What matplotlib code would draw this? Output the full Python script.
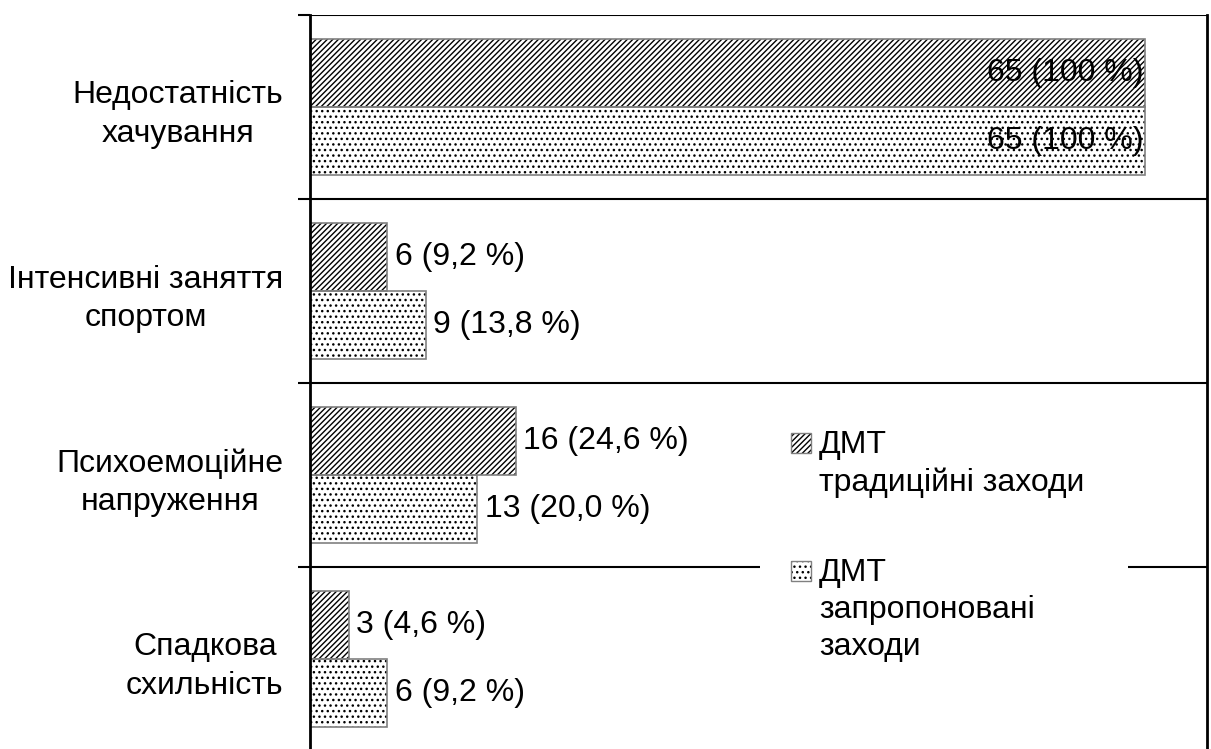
import matplotlib
matplotlib.use("Agg")
import matplotlib.pyplot as plt
from matplotlib.patches import Rectangle
import numpy as np

categories = ["Недостатність\nхачування", "Інтенсивні заняття\nспортом",
              "Психоемоційне\nнапруження", "Спадкова\nсхильність"]
traditional = [65, 6, 16, 3]
traditional_pct = ["100", "9,2", "24,6", "4,6"]
proposed = [65, 9, 13, 6]
proposed_pct = ["100", "13,8", "20,0", "9,2"]
legend_labels = ["ДМТ\nтрадиційні заходи", "ДМТ\nзапропоновані\nзаходи"]

plt.rcParams['font.family'] = ['Liberation Sans', 'DejaVu Sans']
plt.rcParams['hatch.linewidth'] = 1.0
plt.rcParams['hatch.color'] = 'black'

W, H = 1211, 749
fig = plt.figure(figsize=(W / 100, H / 100), dpi=100)
ax = fig.add_axes([310 / W, 1 - 751 / H, (1207 - 310) / W, (751 - 15) / H])

y = np.arange(len(categories))
h = 0.37
off = 0.185
hatches = ['//////', '...']
FS = 23

for vals, pcts, dy, hatch in [(traditional, traditional_pct, -off, hatches[0]),
                              (proposed, proposed_pct, off, hatches[1])]:
    ax.barh(y + dy, vals, height=h, color='white', edgecolor='black',
            linewidth=0, hatch=hatch, zorder=2)
    ax.barh(y + dy, vals, height=h, fill=False, edgecolor='#808080',
            linewidth=1.2, zorder=3)
    for yi, v, p in zip(y + dy, vals, pcts):
        txt = f"{v} ({p} %)"
        if v > 50:
            ax.text(v - 0.15, yi, txt, ha='right', va='center', fontsize=FS, zorder=4)
        else:
            ax.text(v + 0.6, yi, txt, ha='left', va='center', fontsize=FS, zorder=4)

ax.set_xlim(0, 69.8)
ax.set_ylim(3.5, -0.5)
ax.set_xticks([])
ax.set_yticks(y)
ax.set_yticklabels(categories, fontsize=FS, multialignment='center', linespacing=1.35)
ax.tick_params(axis='y', which='major', length=0, pad=19)
ax.set_yticks([-0.5, 0.5, 1.5, 2.5], minor=True)
ax.tick_params(axis='y', which='minor', length=8.6, width=1.5, direction='out', color='black')
ax.grid(which='minor', axis='y', color='black', linewidth=1.5, zorder=1)
ax.set_axisbelow(True)
for s in ['top', 'bottom']:
    ax.spines[s].set_visible(False)
for s in ['left', 'right']:
    ax.spines[s].set_linewidth(2)
    ax.spines[s].set_zorder(5)

# legend (manual, white box covering the grid line)
def fx(px):
    return px / W

def fy(py):
    return 1 - py / H

fig.patches.append(Rectangle((fx(760), fy(700)), fx(1128) - fx(760), fy(420) - fy(700),
                             transform=fig.transFigure, facecolor='white',
                             edgecolor='none', zorder=3))
leg_rows = [(433, legend_labels[0], hatches[0]), (561, legend_labels[1], hatches[1])]
for py, lab, hatch in leg_rows:
    fig.patches.append(Rectangle((fx(791), fy(py + 20)), fx(811) - fx(791), fy(py) - fy(py + 20),
                                 transform=fig.transFigure, facecolor='white',
                                 edgecolor='black', linewidth=0, hatch=hatch, zorder=4))
    fig.patches.append(Rectangle((fx(791), fy(py + 20)), fx(811) - fx(791), fy(py) - fy(py + 20),
                                 transform=fig.transFigure, fill=False,
                                 edgecolor='#808080', linewidth=1, zorder=5))
    fig.text(fx(819), fy(py - 3), lab, ha='left', va='top', fontsize=FS,
             linespacing=1.3, zorder=6)

fig.savefig("out.png", dpi=100)
